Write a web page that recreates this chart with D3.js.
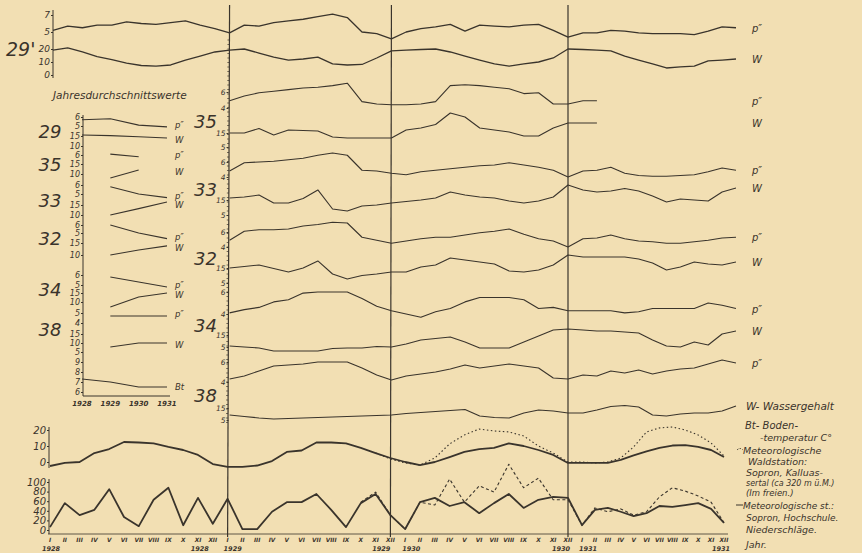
<!DOCTYPE html>
<html><head><meta charset="utf-8">
<script src="https://cdn.jsdelivr.net/npm/d3@7"></script>
<style>
body{margin:0;background:#f2dfb3}
svg{display:block}
text{font-family:"DejaVu Sans",sans-serif;font-style:italic;fill:#3a332b}
</style></head>
<body><svg id="c" width="862" height="553"></svg>
<script>
// ---------- DATA ----------
const monthLabels = ["I","II","III","IV","V","VI","VII","VIII","IX","X","XI","XII"];
const years = [1928,1929,1930,1931];
const pLabel = "p\u2033";

// top panel station 29' (monthly 1928-1931)
const top29P = [5.2,5.7,5.5,5.8,5.8,6.2,6.0,5.9,6.1,6.3,5.8,5.4, 4.9,5.8,5.7,6.1,6.3,6.5,6.8,7.1,6.7,5.0,4.8,4.2,
                5.0,5.4,5.6,5.9,5.1,5.8,5.7,5.6,5.8,5.9,5.2,4.4, 4.9,4.9,5.2,5.1,4.9,4.8,4.8,4.8,4.7,5.1,5.6,5.5];
const top29W = [19.2,20.8,17.7,14.2,11.9,9.2,7.3,6.9,7.7,11.5,14.6,17.7, 19.2,20,16.9,13.8,11.5,12.3,13.8,8.5,7.7,8.1,13.1,18.5,
                19.2,19.6,20,17.7,14.6,11.5,8.5,6.9,8.5,10,13.1,20, 19.6,19.2,18.5,14.6,11.5,8.5,5.4,6.2,6.9,10.8,11.5,12.3];

// station series, monthly from 1929 I
const st35P = [4.9,5.5,5.9,6.1,6.3,6.5,6.6,6.8,7.1,4.8,4.5,4.4, 4.4,4.5,4.8,6.8,6.9,6.8,6.6,6.4,5.8,5.9,4.5,4.5, 4.9,4.9];
const st35W = [15,15,18.2,13.6,17.1,16.8,16.4,12.1,11.4,11.4,11.4,11.4, 17.1,18.6,21.1,29.3,26.4,18.6,17.1,15.7,12.9,12.9,18.6,22.1, 22.1,22.1];
const st33P = [4.8,5.9,6.0,6.1,6.3,6.5,6.9,7.2,6.9,4.9,4.8,4.5, 4.3,4.7,4.9,5.1,5.3,5.5,5.6,5.9,5.6,5.3,4.9,4.0, 4.8,4.9,5.3,4.5,4.2,4.1,4.1,4.2,4.3,4.7,5.2,4.9];
const st33W = [16.3,17,18.3,13,13,16,21.7,9,7.7,11,11.7,13, 14,15,16.3,20.3,18.3,17,16.3,14.3,13,14.3,17,25, 21.7,20.3,21,22.7,21,17.7,13.7,15.7,15,14.3,20.3,23];
const st32P = [4.9,6.1,6.3,6.3,6.4,6.8,7.0,7.3,7.2,5.3,4.9,4.5, 4.8,5.1,5.3,5.3,5.6,5.9,6.1,6.4,5.7,5.1,4.8,4.0, 5.1,5.2,5.6,5.1,4.8,4.7,4.5,4.5,4.7,4.9,5.2,5.3];
const st32W = [15,16,17,14.7,12.3,15,19.7,11,7.7,10,11,12.3, 12.3,15.7,17,21.7,20.3,19,17.7,13,12.3,13.7,17,23.7, 22.3,22.3,22.3,22.3,21,18.3,13.7,15.7,19,17.7,17,19];
const st34P = [4.1,4.4,4.6,5.1,5.3,5.9,6.0,6.0,6.0,5.4,4.7,4.3, 4.0,3.7,4.2,4.5,5.1,5.5,5.5,5.5,5.3,4.5,4.6,4.3, 4.3,4.3,4.3,4.1,4.2,4.5,4.5,4.5,4.5,5.0,4.8,4.5];
const st34W = [5.8,5,4.2,1.7,1.7,1.7,1.7,3.8,4.2,4.2,5.4,5, 7.5,10.8,12.1,13.3,9.2,4.2,4.2,4.2,9.2,14.2,19.2,20, 19.2,18.3,18.3,17.5,16.7,10.8,5.8,5,9.2,6.7,15.8,18.3];
const st38P = [4.3,4.6,5.1,5.6,5.7,5.8,6.0,6.0,6.0,5.4,4.7,4.2, 4.6,4.8,5.0,5.3,5.7,5.4,5.6,5.8,5.6,5.4,4.4,4.3, 4.7,4.6,5.1,4.9,5.2,4.8,5.1,5.3,5.4,5.8,6.2,5.9];
const st38W = [9.2,7.9,6.7,5.8,6.3,6.7,7.1,7.5,7.9,8.3,8.8,9.2, 10.4,11.3,12.1,12.9,13.8,8.3,7.1,6.7,10.8,13.3,12.5,10.8, 10.8,13.3,16.3,17.1,15.8,9.2,8.3,10,10.8,10.8,12.5,16.7];

// annual means (1928..1931)
const ann29P = [5.7,5.8,5.1,4.9],  ann29W = [15.5,15.2,14.6,14.0];
const ann35P = [null,6.1,5.8,null], ann35W = [null,8,12,null];
const ann33P = [null,5.8,5.0,4.6], ann33W = [null,10,13.2,16.5];
const ann32P = [null,6.0,5.0,4.3], ann32W = [null,10,12.1,13.8];
const ann34P = [null,5.8,5.3,4.8], ann34W = [null,7.2,12.8,15];
const ann38P = [null,4.7,4.7,4.7], ann38W = [null,7.8,10,10];
const annBt  = [7.3,7.0,6.5,6.5];

// air temperature (monthly 1928-1931)
const tempHochschule = [-2.5,-0.6,0,5.6,8.1,12.5,12.2,11.6,9.4,7.5,4.4,-1.3,
                        -3.1,-3.1,-2.2,0.6,6.3,7.2,12.2,12.2,11.6,8.8,5.6,2.5,
                        0,-1.9,0,3.1,6.3,8.1,8.8,11.6,10,7.5,4.4,-0.6,
                        -0.6,-0.6,-0.6,1.3,4.1,6.6,8.8,10.3,10.5,9.4,7.5,3.1];
// Waldstation from 1929 XI
const tempWald = [5.6,1.9, -0.6,-1.9,2.5,11.3,16.9,20.6,19.4,18.8,16.3,10,5.6,0,
                  0,-0.6,0,2.5,9.4,18.8,21.3,21.9,20,16.9,11.9,3.8];
// precipitation
const precHochschule = [6,56,31,42,85,27,8,63,88,10,67,13,
                        65,2,2,38,58,58,75,42,6,56,75,31,
                        2,58,67,50,58,35,56,75,46,63,69,67,
                        10,42,46,38,29,35,50,48,52,56,44,15];
// Waldstation from 1929 X
const precWald = [58,79,31, 2,58,52,106,58,92,79,137,88,108,63,63, 10,46,38,44,31,38,69,88,81,71,58,15];

// ---------- DRAW ----------
const svg = d3.select("#c");
const ink = "#3a342c";
const xTop = d3.scaleLinear().domain([0,35,36,47]).range([53,568,583,736]);
const xBot = d3.scaleLinear().domain([0,35,36,47]).range([50,568,582,724]);
const xIn  = d3.scaleLinear().domain([1928,1931]).range([82,167]);

function series(vals, start){ return vals.map((v,k)=>({i:start+k, v})); }
function drawLine(data, x, y, opts={}){
  const line = d3.line().defined(d=>d.v!=null).x(d=>x(d.i)).y(d=>y(d.v)).curve(d3.curveLinear);
  svg.append("path").datum(data).attr("d", line).attr("fill","none")
     .attr("stroke", ink).attr("stroke-width", opts.w||1.1)
     .attr("stroke-dasharray", opts.dash||null).attr("stroke-linejoin","round");
}
function axis(scale, xPos, ticks, size){
  const g = svg.append("g").attr("transform",`translate(${xPos},0)`)
    .call(d3.axisLeft(scale).tickValues(ticks).tickSize(2).tickFormat(d3.format("d")));
  g.select(".domain").remove();
  g.selectAll("line").attr("stroke", ink);
  g.selectAll("text").attr("font-size", size||8).attr("font-family","DejaVu Sans")
    .attr("font-style","italic").attr("fill", ink).attr("x",-3);
  return g;
}
function label(x, y, t, size, opts={}){
  return svg.append("text").attr("x",x).attr("y",y).text(t).attr("font-size",size)
    .attr("text-anchor",opts.anchor||"start").attr("font-style",opts.italic===false?"normal":"italic")
    .attr("font-weight",opts.bold?"bold":"normal");
}

// year separator lines
[12,23,35].forEach(i=>{
  svg.append("line").attr("x1",xTop(i)).attr("y1",5).attr("x2",xBot(i)).attr("y2",537)
    .attr("stroke",ink).attr("stroke-width",1.2);
});
// dotted ticks along the 1929 line
d3.range(40,425,4.5).forEach(y=>{
  const t=(y-5)/532, x=xTop(12)+(xBot(12)-xTop(12))*t;
  svg.append("line").attr("x1",x-2).attr("x2",x).attr("y1",y).attr("y2",y).attr("stroke",ink).attr("stroke-width",0.7);
});

// top panel 29'
const yTopP = d3.scaleLinear().domain([5,7]).range([32,15]);
const yTopW = d3.scaleLinear().domain([0,20]).range([75,49]);
svg.append("line").attr("x1",53).attr("x2",53).attr("y1",10).attr("y2",78).attr("stroke",ink).attr("stroke-width",1);
axis(yTopP,53,[7,5],9); axis(yTopW,53,[20,10,0],9);
drawLine(series(top29P,0), xTop, yTopP, {w:1.3});
drawLine(series(top29W,0), xTop, yTopW, {w:1.3});
label(6,56,"29'",19,{italic:false});
label(752,yTopP(top29P[47])+4,pLabel,10);
label(752,yTopW(top29W[47])+4,"W",10);

// station panels
const stations = [
  {id:"35", P:st35P, W:st35W, pDom:[108,92], wDom:[147,133]},
  {id:"33", P:st33P, W:st33W, pDom:[177,162], wDom:[215,200]},
  {id:"32", P:st32P, W:st32W, pDom:[247,232], wDom:[283,268]},
  {id:"34", P:st34P, W:st34W, pDom:[314,292], wDom:[347,335]},
  {id:"38", P:st38P, W:st38W, pDom:[382,362], wDom:[420,408]},
];
stations.forEach((s,k)=>{
  const yP = d3.scaleLinear().domain([4,6]).range(s.pDom);
  const yW = d3.scaleLinear().domain([5,15]).range(s.wDom);
  axis(yP, xTop(12)-1, [6,4], 7.5);
  axis(yW, xTop(12)-1, [15,5], 7.5);
  drawLine(series(s.P,12), xTop, yP);
  drawLine(series(s.W,12), xTop, yW);
  const mid = (s.pDom[0]+s.wDom[1])/2;
  label(194, mid+7, s.id, 18, {italic:false});
  const lastP = s.P[s.P.length-1], lastW = s.W[s.W.length-1];
  label(752, yP(lastP)+4, pLabel, 10);
  if(k<4) label(752, yW(lastW)+4, "W", 10);
  else label(746, yW(lastW)+4, "W- Wassergehalt", 10.5);
});

// inset: annual means
label(53,99,"Jahresdurchschnittswerte",10.5);
svg.append("line").attr("x1",83).attr("x2",83).attr("y1",115).attr("y2",396).attr("stroke",ink);
svg.append("line").attr("x1",83).attr("x2",170).attr("y1",396).attr("y2",396).attr("stroke",ink);
const inset = [
  {id:"29", P:ann29P, W:ann29W, yP:d3.scaleLinear().domain([5,6]).range([126,117]), pt:[6,5], yW:d3.scaleLinear().domain([10,15]).range([146,136]), wt:[15,10]},
  {id:"35", P:ann35P, W:ann35W, yP:d3.scaleLinear().domain([5,6]).range([164,155]), pt:[6],   yW:d3.scaleLinear().domain([10,15]).range([174,164]), wt:[15,10]},
  {id:"33", P:ann33P, W:ann33W, yP:d3.scaleLinear().domain([5,6]).range([194,185]), pt:[6,5], yW:d3.scaleLinear().domain([10,15]).range([215,205]), wt:[15,10]},
  {id:"32", P:ann32P, W:ann32W, yP:d3.scaleLinear().domain([5,6]).range([233,225]), pt:[6,5], yW:d3.scaleLinear().domain([10,15]).range([255,243]), wt:[15,10]},
  {id:"34", P:ann34P, W:ann34W, yP:d3.scaleLinear().domain([5,6]).range([285,275]), pt:[6,5], yW:d3.scaleLinear().domain([10,15]).range([302,293]), wt:[15,10]},
  {id:"38", P:ann38P, W:ann38W, yP:d3.scaleLinear().domain([4,5]).range([323,313]), pt:[5,4], yW:d3.scaleLinear().domain([10,15]).range([343,334]), wt:[15,10,5]},
];
const annSeries = arr => arr.map((v,k)=>({i:years[k], v}));
inset.forEach(s=>{
  axis(s.yP,83,s.pt,8); axis(s.yW,83,s.wt,8);
  drawLine(annSeries(s.P), xIn, s.yP);
  drawLine(annSeries(s.W), xIn, s.yW);
  const a=s.yP.range()[0], b=s.yW.range()[1];
  label(50,(a+b)/2+7,s.id,18,{italic:false,anchor:"middle"});
  const pY = s.yP(s.P[3]!=null?s.P[3]:s.P[2]) + 1;
  const wY = Math.max(s.yW(s.W[3]!=null?s.W[3]:s.W[2]) + 5, pY + 9);
  label(175,pY,pLabel,8.5);
  label(175,wY,"W",8.5);
});
const yBt = d3.scaleLinear().domain([6,9]).range([392,362]);
axis(yBt,83,[9,8,7,6],8);
drawLine(annSeries(annBt), xIn, yBt);
label(175, yBt(annBt[3])+3, "Bt", 8.5);
years.forEach(y=>label(xIn(y),406,String(y),7,{anchor:"middle",bold:true}));

// temperature panel
const yT = d3.scaleLinear().domain([0,20]).range([462,430]);
svg.append("line").attr("x1",49).attr("x2",49).attr("y1",427).attr("y2",468).attr("stroke",ink);
axis(yT,49,[20,10,0],10);
drawLine(series(tempWald,22), xBot, yT, {w:1.1, dash:"1.5,2.5"});
drawLine(series(tempHochschule,0), xBot, yT, {w:1.8});

// precipitation panel
const yR = d3.scaleLinear().domain([0,100]).range([530,482]);
svg.append("line").attr("x1",49).attr("x2",49).attr("y1",479).attr("y2",534).attr("stroke",ink);
axis(yR,49,[100,80,60,40,20,0],10);
drawLine(series(precWald,21), xBot, yR, {w:1.1, dash:"3,2.5"});
drawLine(series(precHochschule,0), xBot, yR, {w:1.8});

// month axis
svg.append("line").attr("x1",48).attr("x2",728).attr("y1",534).attr("y2",534).attr("stroke",ink).attr("stroke-width",0.8);
d3.range(48).forEach(i=>{
  label(xBot(i),541.5,monthLabels[i%12],5.8,{anchor:"middle",bold:true,italic:false});
});
// year labels: start-of-year labels to the right, end-of-year labels to the left
[[0,1928,"start",-8],[11,1928,"end",-4],[12,1929,"start",-4],[23,1929,"end",0],[24,1930,"start",-3],[35,1930,"end",2],[36,1931,"start",-3],[47,1931,"end",6]]
.forEach(([i,y,anc,dx])=>{
  label(xBot(i)+dx,551,String(y),6.5,{anchor:anc,bold:true});
});

// legend text
label(745,429,"Bt- Boden-",10);
label(760,441,"-temperatur C°",9.5);
svg.append("path").attr("d","M737,450 q3,-3 6,0").attr("fill","none").attr("stroke",ink).attr("stroke-dasharray","1.5,1.5");
label(743,454,"Meteorologische",9.5);
label(748,465,"Waldstation:",9.5);
label(746,476,"Sopron, Kalluas-",9.5);
label(746,486,"sertal (ca 320 m ü.M.)",8);
label(746,496,"(Im freien.)",8.5);
svg.append("line").attr("x1",736).attr("x2",743).attr("y1",505).attr("y2",505).attr("stroke",ink);
label(743,509,"Meteorologische st.:",9);
label(746,521,"Sopron, Hochschule.",9);
label(746,533,"Niederschläge.",9.5);
label(746,548,"Jahr.",9.5);
</script>
</body></html>
